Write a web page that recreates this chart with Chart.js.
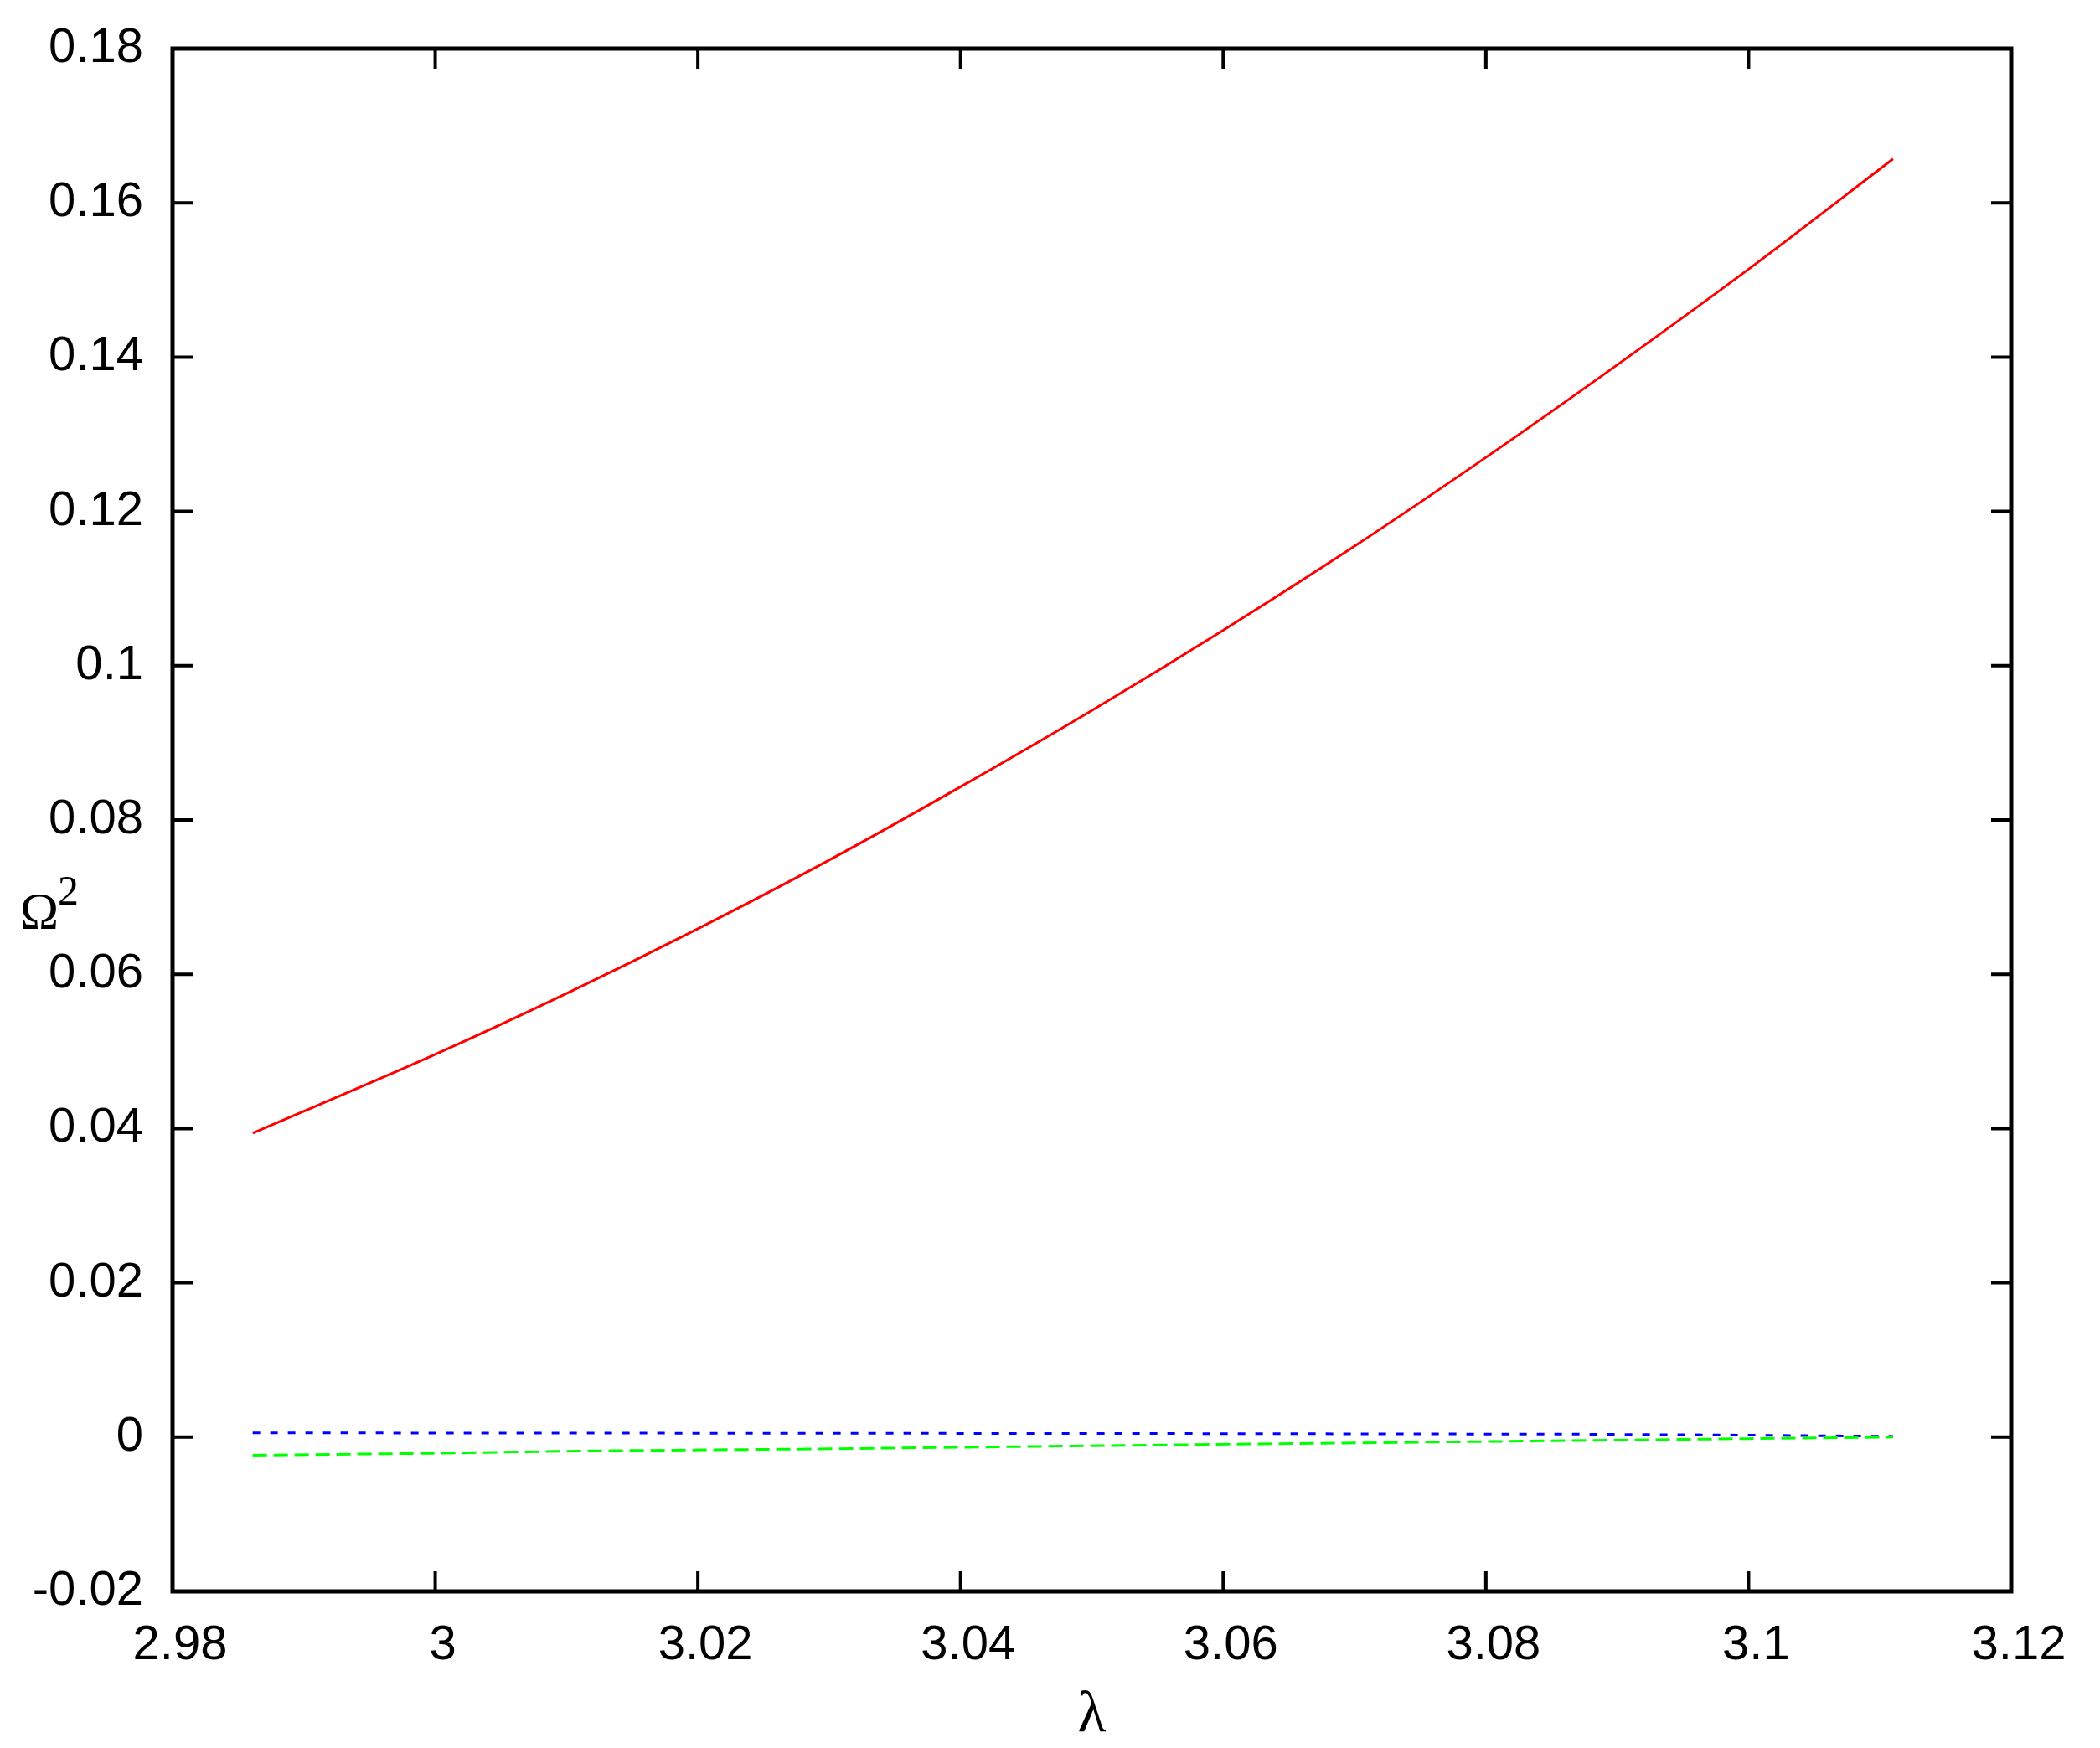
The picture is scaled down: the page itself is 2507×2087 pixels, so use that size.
<!DOCTYPE html>
<html>
<head>
<meta charset="utf-8">
<script src="https://cdn.jsdelivr.net/npm/chart.js@4.4.1/dist/chart.umd.min.js"></script>
<style>
  html, body { margin: 0; padding: 0; background: #fff; }
  canvas { display: block; }
</style>
</head>
<body>
<canvas id="chartCanvas" width="2507" height="2087"></canvas>
<script>
// data
const redLambda = [2.9861, 3.0, 3.01, 3.02, 3.03, 3.04, 3.05, 3.06, 3.07, 3.08, 3.09, 3.10, 3.111];
const redOmega2 = [0.0394, 0.0496, 0.0575, 0.0659, 0.0748, 0.0843, 0.0942, 0.1046, 0.1155, 0.1270, 0.1390, 0.1514, 0.1657];

const blueLambda = [2.9861, 3.0, 3.04, 3.06, 3.088, 3.10, 3.111];
const blueOmega2 = [0.00055, 0.00053, 0.00048, 0.00045, 0.00037, 0.00025, 0.0001];

const greenLambda = [2.9861, 3.0, 3.011, 3.03, 3.056, 3.088, 3.10, 3.111];
const greenOmega2 = [-0.00235, -0.0021, -0.0018, -0.00152, -0.00101, -0.00043, -0.0002, 0.0];

const xTickLabels = ["2.98", "3", "3.02", "3.04", "3.06", "3.08", "3.1", "3.12"];
const yTickLabels = ["-0.02", "0", "0.02", "0.04", "0.06", "0.08", "0.1", "0.12", "0.14", "0.16", "0.18"];

const xMin = 2.98, xMax = 3.12, xStep = 0.02;
const yMin = -0.02, yMax = 0.18, yStep = 0.02;

function toPoints(xs, ys) {
    return xs.map((x, i) => ({ x: x, y: ys[i] }));
}

// frame + inward ticks on all four sides, gnuplot style
const framePlugin = {
    id: "frame",
    afterDraw(chart) {
        const ctx = chart.ctx;
        const a = chart.chartArea;
        const xs = chart.scales.x;
        const ys = chart.scales.y;
        const tl = 24;

        ctx.save();
        ctx.strokeStyle = "#000";
        ctx.lineWidth = 4;
        ctx.beginPath();
        xs.ticks.forEach(t => {
            const px = xs.getPixelForValue(t.value);
            ctx.moveTo(px, a.bottom); ctx.lineTo(px, a.bottom - tl);
            ctx.moveTo(px, a.top); ctx.lineTo(px, a.top + tl);
        });
        ys.ticks.forEach(t => {
            const py = ys.getPixelForValue(t.value);
            ctx.moveTo(a.left, py); ctx.lineTo(a.left + tl, py);
            ctx.moveTo(a.right, py); ctx.lineTo(a.right - tl, py);
        });
        ctx.stroke();

        ctx.lineWidth = 5;
        ctx.strokeRect(a.left, a.top, a.right - a.left, a.bottom - a.top);

        // axis titles
        ctx.fillStyle = "#000";
        ctx.textBaseline = "alphabetic";
        ctx.font = "62px 'Liberation Serif'";
        ctx.textAlign = "left";
        ctx.fillText("Ω", a.left - 182, 1108);
        ctx.font = "50px 'Liberation Serif'";
        ctx.fillText("2", a.left - 137, 1080);

        ctx.font = "70px 'Liberation Serif'";
        ctx.textAlign = "center";
        ctx.fillText("λ", (a.left + a.right) / 2, 2067);
        ctx.restore();
    }
};

const ctx = document.getElementById("chartCanvas").getContext("2d");

new Chart(ctx, {
    type: "scatter",
    data: {
        datasets: [
            {
                label: "red",
                data: toPoints(redLambda, redOmega2),
                showLine: true,
                borderColor: "#ff0000",
                borderWidth: 3,
                pointRadius: 0,
                cubicInterpolationMode: "monotone"
            },
            {
                label: "green",
                data: toPoints(greenLambda, greenOmega2),
                showLine: true,
                borderColor: "#00ff00",
                borderWidth: 3,
                borderDash: [17, 8],
                pointRadius: 0
            },
            {
                label: "blue",
                data: toPoints(blueLambda, blueOmega2),
                showLine: true,
                borderColor: "#0000ff",
                borderWidth: 3,
                borderDash: [9, 12],
                pointRadius: 0
            }
        ]
    },
    options: {
        responsive: false,
        animation: false,
        layout: { padding: { top: 58, right: 106, left: 0, bottom: 0 } },
        plugins: {
            legend: { display: false },
            tooltip: { enabled: false }
        },
        scales: {
            x: {
                type: "linear",
                min: xMin,
                max: xMax,
                grid: { display: false, drawTicks: false },
                border: { display: false },
                afterFit: s => { s.height = 187; },
                ticks: {
                    stepSize: xStep,
                    color: "#000",
                    padding: 30,
                    labelOffset: 9,
                    maxRotation: 0,
                    autoSkip: false,
                    font: { family: "'Liberation Sans'", size: 58 },
                    callback: v => xTickLabels[Math.round((v - xMin) / xStep)]
                }
            },
            y: {
                type: "linear",
                min: yMin,
                max: yMax,
                grid: { display: false, drawTicks: false },
                border: { display: false },
                afterFit: s => { s.width = 206; },
                ticks: {
                    stepSize: yStep,
                    color: "#000",
                    padding: 35,
                    autoSkip: false,
                    font: { family: "'Liberation Sans'", size: 58, lineHeight: 0.7 },
                    callback: v => yTickLabels[Math.round((v - yMin) / yStep)]
                }
            }
        }
    },
    plugins: [framePlugin]
});
</script>
</body>
</html>
